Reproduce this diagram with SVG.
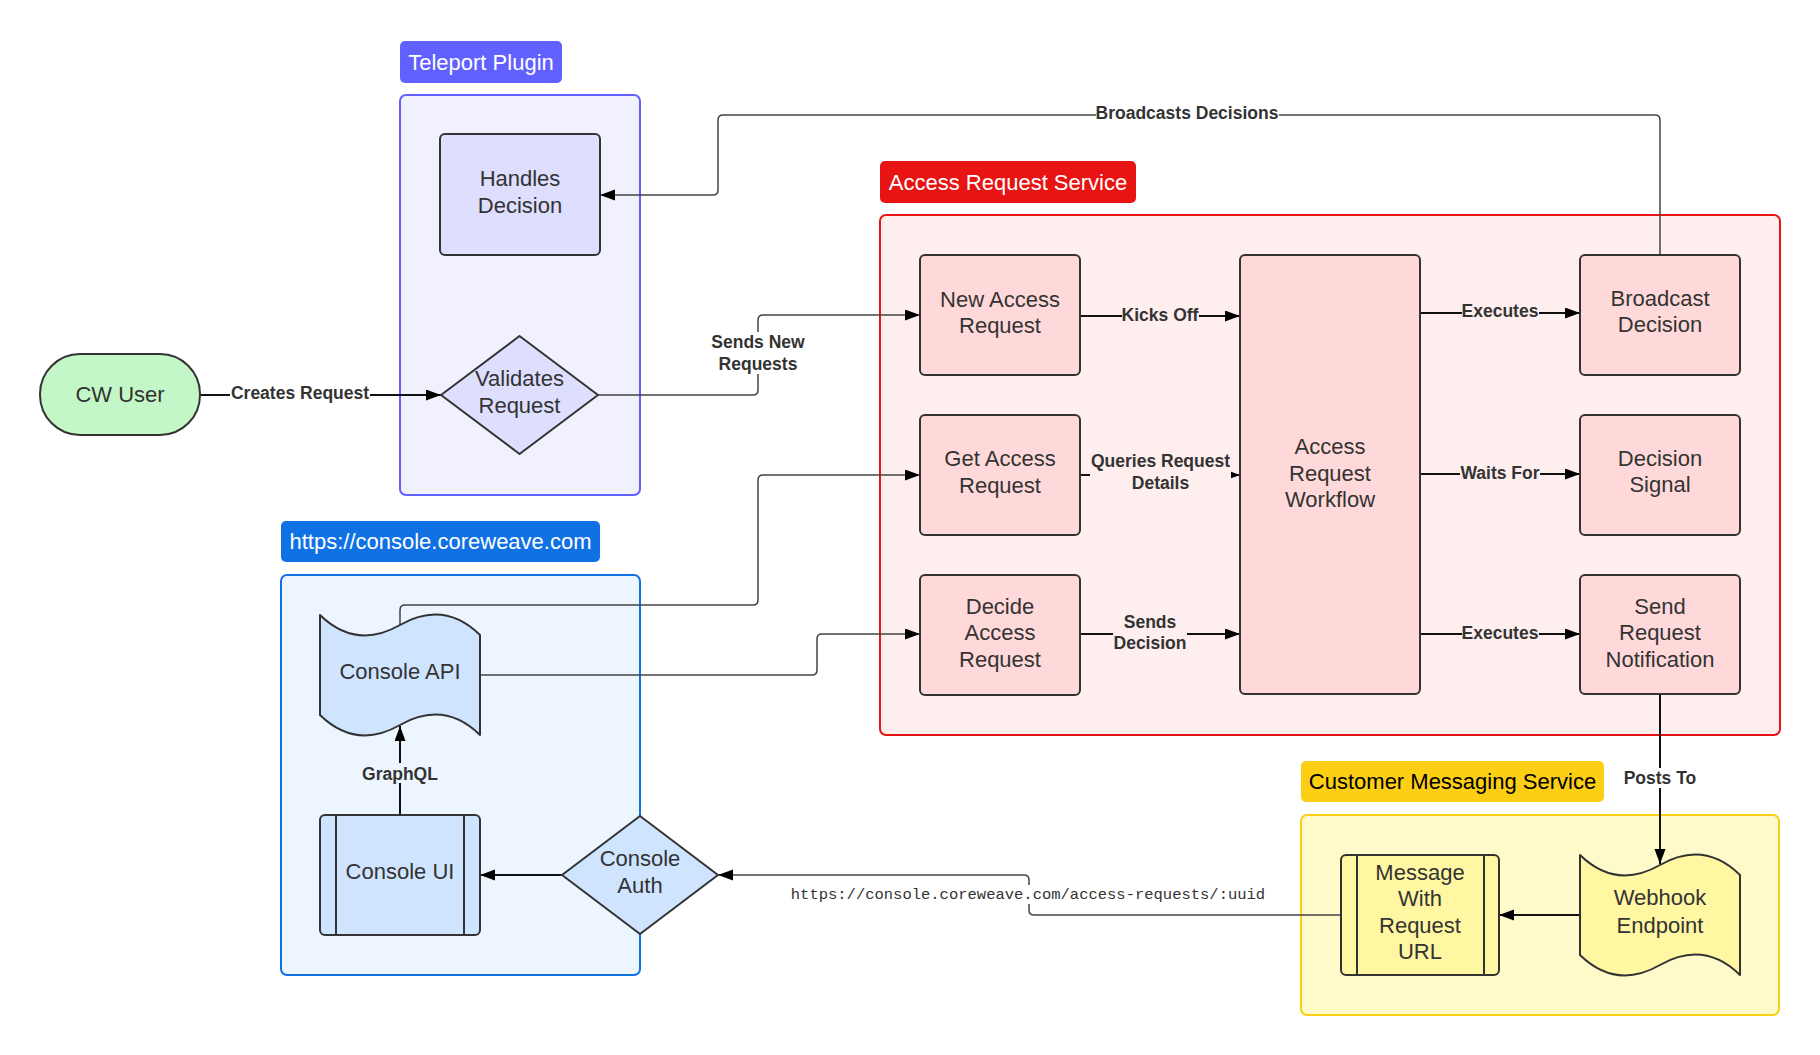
<svg xmlns="http://www.w3.org/2000/svg" width="1820" height="1055" viewBox="0 0 1820 1055">
<defs>
<style>
.t{font-family:"Liberation Sans",Arial,Helvetica,sans-serif;font-size:22px;fill:#333;text-anchor:middle}
.lt{font-family:"Liberation Sans",Arial,Helvetica,sans-serif;font-size:22px;fill:#fff;text-anchor:middle}
.el{font-family:"Liberation Sans",Arial,Helvetica,sans-serif;font-size:17.5px;font-weight:bold;fill:#333;text-anchor:middle}
.mono{font-family:"Liberation Mono","Courier New",monospace;font-size:15.5px;fill:#333;text-anchor:middle}
.n{stroke:#333;stroke-width:2;stroke-linejoin:round}
.e{fill:none;stroke:#111;stroke-width:2}
.e2{fill:none;stroke:#444;stroke-width:1.5}
</style>
<marker id="ah" markerUnits="userSpaceOnUse" markerWidth="16" markerHeight="12" refX="15" refY="5.5" orient="auto">
<path d="M0,0 L15,5.5 L0,11 Z" fill="#000"/>
</marker>
</defs>
<rect width="1820" height="1055" fill="#fff"/>

<!-- Containers -->
<g id="teleport-plugin">
<rect x="400" y="41" width="162" height="42" rx="5" fill="#6161ff"/>
<text class="lt" x="481" y="69.5">Teleport Plugin</text>
<rect x="400" y="95" width="240" height="400" rx="6" fill="#f1f1fd" stroke="#6161ff" stroke-width="2"/>
</g>
<g id="access-request-service">
<rect x="880" y="161" width="256" height="42" rx="5" fill="#e81313"/>
<text class="lt" x="1008" y="189.5">Access Request Service</text>
<rect x="880" y="215" width="900" height="520" rx="6" fill="#feeeee" stroke="#e81313" stroke-width="2"/>
</g>
<g id="console-coreweave">
<rect x="281" y="521" width="319" height="41" rx="5" fill="#1071e5"/>
<text class="lt" x="440.5" y="549">https://console.coreweave.com</text>
<rect x="281" y="575" width="359" height="400" rx="6" fill="#edf5ff" stroke="#1071e5" stroke-width="2"/>
</g>
<g id="customer-messaging-service">
<rect x="1301" y="761" width="303" height="41" rx="5" fill="#fcce14"/>
<text class="lt" x="1452.5" y="789" style="fill:#000">Customer Messaging Service</text>
<rect x="1301" y="815" width="478" height="200" rx="6" fill="#fefac9" stroke="#fcce14" stroke-width="2"/>
</g>

<!-- Connectors -->
<g id="connectors">
<path class="e" d="M200,395 H441" marker-end="url(#ah)"/>
<path class="e2" d="M598,395 H753 Q758,395 758,390 V320 Q758,315 763,315 H920" marker-end="url(#ah)"/>
<path class="e2" d="M400,625 V610 Q400,605 405,605 H753 Q758,605 758,600 V480 Q758,475 763,475 H920" marker-end="url(#ah)"/>
<path class="e2" d="M480,675 H812 Q817,675 817,670 V639 Q817,634 822,634 H920" marker-end="url(#ah)"/>
<path class="e" d="M1080,316 H1240" marker-end="url(#ah)"/>
<path class="e" d="M1080,475 H1240" marker-end="url(#ah)"/>
<path class="e" d="M1080,634 H1240" marker-end="url(#ah)"/>
<path class="e" d="M1420,313 H1580" marker-end="url(#ah)"/>
<path class="e" d="M1420,474 H1580" marker-end="url(#ah)"/>
<path class="e" d="M1420,634 H1580" marker-end="url(#ah)"/>
<path class="e2" d="M1660,255 V120 Q1660,115 1655,115 H723 Q718,115 718,120 V190 Q718,195 713,195 H600" marker-end="url(#ah)"/>
<path class="e" d="M1660,694 V864" marker-end="url(#ah)"/>
<path class="e" d="M1580,915 H1499" marker-end="url(#ah)"/>
<path class="e2" d="M1341,915 H1034 Q1029,915 1029,910 V880 Q1029,875 1024,875 H718" marker-end="url(#ah)"/>
<path class="e" d="M562,875 H480" marker-end="url(#ah)"/>
<path class="e" d="M400,815 V726" marker-end="url(#ah)"/>

<rect x="230" y="384" width="140" height="20" fill="#fff"/>
<text class="el" x="300" y="399">Creates Request</text>
<rect x="710" y="332" width="96" height="42" fill="#fff"/>
<text class="el" x="758" y="348">Sends New</text>
<text class="el" x="758" y="369.5">Requests</text>
<rect x="1122" y="305" width="77" height="20" fill="#feeeee"/>
<text class="el" x="1160" y="321">Kicks Off</text>
<rect x="1090" y="451" width="141" height="44" fill="#feeeee"/>
<text class="el" x="1160.5" y="467">Queries Request</text>
<text class="el" x="1160.5" y="489">Details</text>
<rect x="1113" y="612" width="74" height="42" fill="#feeeee"/>
<text class="el" x="1150" y="628">Sends</text>
<text class="el" x="1150" y="649">Decision</text>
<rect x="1462" y="302" width="77" height="20" fill="#feeeee"/>
<text class="el" x="1500" y="317">Executes</text>
<rect x="1460" y="463" width="80" height="20" fill="#feeeee"/>
<text class="el" x="1500" y="479">Waits For</text>
<rect x="1462" y="623" width="77" height="20" fill="#feeeee"/>
<text class="el" x="1500" y="639">Executes</text>
<rect x="1096" y="103" width="183" height="20" fill="#fff"/>
<text class="el" x="1187" y="119">Broadcasts Decisions</text>
<rect x="364" y="763" width="72" height="20" fill="#edf5ff"/>
<text class="el" x="400" y="779.5">GraphQL</text>
<rect x="1624" y="768" width="72" height="20" fill="#fff"/>
<text class="el" x="1660" y="784">Posts To</text>
<rect x="790" y="885" width="476" height="19" fill="#fff"/>
<text class="mono" x="1028" y="899">https://console.coreweave.com/access-requests/:uuid</text>
</g>

<!-- Nodes -->
<g id="cw-user">
<rect class="n" x="40" y="354" width="160" height="81" rx="40" fill="#c3f7c8"/>
<text class="t" x="120" y="402">CW User</text>
</g>
<g id="handles-decision">
<rect class="n" x="440" y="134" width="160" height="121" rx="5" fill="#dedeff"/>
<text class="t" x="520" y="186">Handles</text>
<text class="t" x="520" y="212.7">Decision</text>
</g>
<g id="validates-request">
<path class="n" d="M519.5,336 L598,395 L519.5,454 L441,395 Z" fill="#dedeff"/>
<text class="t" x="519.5" y="386">Validates</text>
<text class="t" x="519.5" y="412.7">Request</text>
</g>
<g id="new-access-request">
<rect class="n" x="920" y="255" width="160" height="120" rx="5" fill="#ffd9d9"/>
<text class="t" x="1000" y="306.6">New Access</text>
<text class="t" x="1000" y="333.3">Request</text>
</g>
<g id="get-access-request">
<rect class="n" x="920" y="415" width="160" height="120" rx="5" fill="#ffd9d9"/>
<text class="t" x="1000" y="466">Get Access</text>
<text class="t" x="1000" y="493">Request</text>
</g>
<g id="decide-access-request">
<rect class="n" x="920" y="575" width="160" height="120" rx="5" fill="#ffd9d9"/>
<text class="t" x="1000" y="613.6">Decide</text>
<text class="t" x="1000" y="640.3">Access</text>
<text class="t" x="1000" y="667">Request</text>
</g>
<g id="access-request-workflow">
<rect class="n" x="1240" y="255" width="180" height="439" rx="5" fill="#ffd9d9"/>
<text class="t" x="1330" y="454">Access</text>
<text class="t" x="1330" y="480.6">Request</text>
<text class="t" x="1330" y="507.3">Workflow</text>
</g>
<g id="broadcast-decision">
<rect class="n" x="1580" y="255" width="160" height="120" rx="5" fill="#ffd9d9"/>
<text class="t" x="1660" y="305.7">Broadcast</text>
<text class="t" x="1660" y="332.3">Decision</text>
</g>
<g id="decision-signal">
<rect class="n" x="1580" y="415" width="160" height="120" rx="5" fill="#ffd9d9"/>
<text class="t" x="1660" y="465.7">Decision</text>
<text class="t" x="1660" y="492.2">Signal</text>
</g>
<g id="send-request-notification">
<rect class="n" x="1580" y="575" width="160" height="119" rx="5" fill="#ffd9d9"/>
<text class="t" x="1660" y="613.7">Send</text>
<text class="t" x="1660" y="640.3">Request</text>
<text class="t" x="1660" y="667">Notification</text>
</g>
<g id="console-api">
<path class="n" d="M320,615 Q356,650 400,625 Q444,600 480,635 L480,735 Q444,700 400,725 Q356,750 320,715 Z" fill="#cfe4ff"/>
<text class="t" x="400" y="679.4">Console API</text>
</g>
<g id="console-ui">
<rect class="n" x="320" y="815" width="160" height="120" rx="5" fill="#cfe4ff"/>
<path class="n" d="M336,815 V935 M464,815 V935" fill="none"/>
<text class="t" x="400" y="879.4">Console UI</text>
</g>
<g id="console-auth">
<path class="n" d="M640,816 L718,875 L640,934 L562,875 Z" fill="#cfe4ff"/>
<text class="t" x="640" y="866">Console</text>
<text class="t" x="640" y="892.7">Auth</text>
</g>
<g id="message-with-request-url">
<rect class="n" x="1341" y="855" width="158" height="120" rx="5" fill="#fff7a1"/>
<path class="n" d="M1357,855 V975 M1484,855 V975" fill="none"/>
<text class="t" x="1420" y="880.4">Message</text>
<text class="t" x="1420" y="906">With</text>
<text class="t" x="1420" y="932.7">Request</text>
<text class="t" x="1420" y="959.4">URL</text>
</g>
<g id="webhook-endpoint">
<path class="n" d="M1580,855 Q1616,890 1660,865 Q1704,840 1740,875 L1740,975 Q1704,940 1660,965 Q1616,990 1580,955 Z" fill="#fff7a1"/>
<text class="t" x="1660" y="905.4">Webhook</text>
<text class="t" x="1660" y="932.7">Endpoint</text>
</g>
</svg>
